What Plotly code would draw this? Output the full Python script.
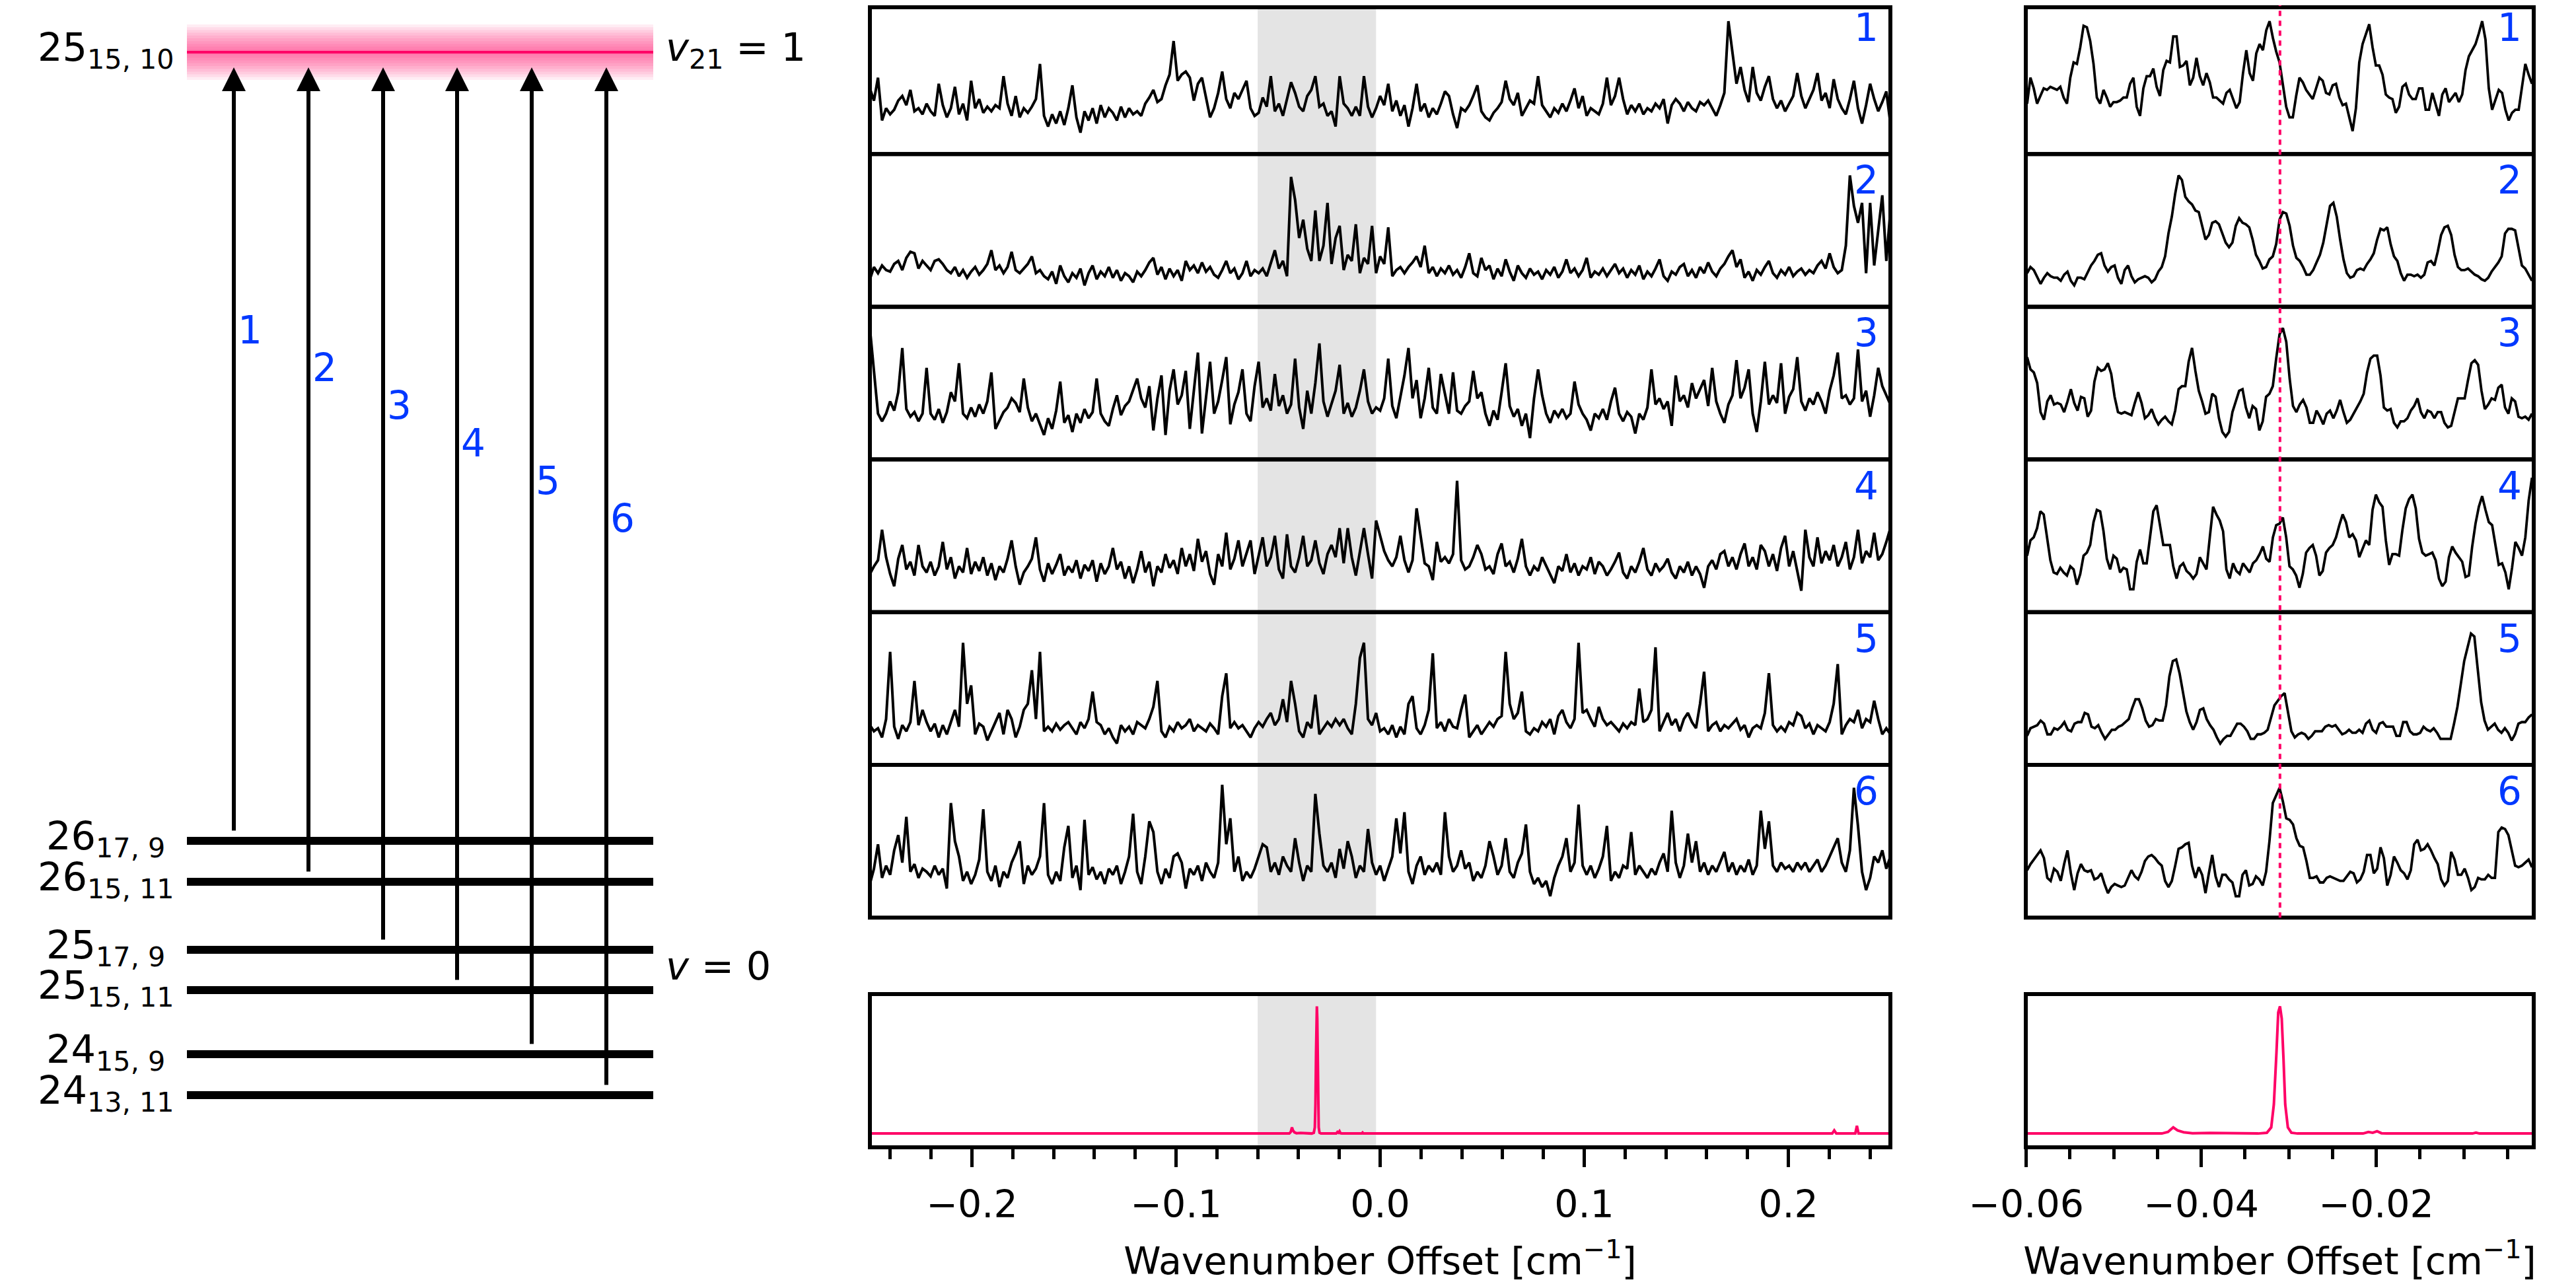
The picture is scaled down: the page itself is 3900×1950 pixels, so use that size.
import numpy as np
import plotly.graph_objects as go

W, H = 3900, 1950            # page size
OFF = 8                      # browser body margin
FW, FH = W - 2 * OFF, H - 2 * OFF
FONT = "DejaVu Sans"
BLUE = "#0038FF"
PINK = "#FF0066"

# ---------------- data ----------------
# full-range spectra (middle column), uniformly sampled over [-0.25, 0.25] cm-1
mid_1 = [43,35,50,22,30,26,29,35,38,32,42,28,30,26,33,28,25,46,32,24,30,44,26,33,22,48,30,36,27,31,
         28,32,30,51,33,25,38,24,30,27,31,36,59,25,18,26,20,28,19,30,45,24,14,28,22,30,20,32,24,30,
         27,22,31,24,30,26,28,25,33,37,42,34,36,45,52,74,48,52,54,50,35,46,50,38,24,30,40,54,36,30,
         40,36,42,48,30,25,
         27,37,31,51,28,33,25,36,47,40,31,28,38,42,51,31,33,25,28,18,51,33,30,25,31,25,51,31,24,
         30,38,32,46,28,35,25,32,18,30,46,28,33,24,30,26,33,41,38,26,17,30,28,32,38,45,28,24,22,27,
         30,34,48,36,32,40,25,30,35,33,51,32,28,24,30,27,33,28,35,43,30,38,25,30,28,26,33,50,32,38,
         50,36,26,32,28,33,26,30,28,33,30,36,20,32,36,33,28,34,30,28,34,32,35,30,25,32,40,87,66,46,
         57,42,34,57,40,35,44,51,36,30,35,28,33,38,53,38,30,36,42,53,35,40,30,49,36,30,26,36,48,30,
         20,32,46,36,28,34,41,20]
mid_2 = [18,26,22,27,24,23,28,30,24,32,36,35,25,30,27,24,30,31,28,24,22,26,20,24,19,23,26,21,24,28,
         37,24,27,22,26,36,24,22,25,28,33,22,24,20,18,23,15,27,20,16,22,19,25,14,22,27,18,23,20,26,
         19,24,17,22,20,16,23,20,24,29,32,21,26,18,25,20,24,17,30,24,27,22,29,23,26,21,19,24,30,22,
         25,18,22,30,20,24,22,25,20,28,37,25,30,20,85,70,45,57,38,30,63,30,40,68,28,45,53,24,34,30,
         54,22,32,28,53,22,33,28,52,20,24,26,22,26,29,33,26,40,22,26,20,25,22,27,21,24,19,26,35,22,
         20,32,24,27,18,25,20,31,23,17,27,22,19,25,21,23,18,24,21,26,19,23,31,22,25,20,24,32,19,23,
         21,25,20,24,28,22,25,19,24,21,27,18,23,20,25,31,20,17,23,21,26,28,20,24,19,26,22,29,23,20,
         25,28,33,37,26,31,19,23,17,24,21,26,30,22,19,24,21,26,20,23,25,21,24,22,27,30,25,35,26,22,
         24,40,86,66,55,68,22,68,27,50,73,30,63]
mid_3 = [86,60,30,25,30,38,32,44,73,33,28,31,25,30,60,30,26,33,24,31,44,38,63,30,27,34,28,36,30,38,
         57,20,26,31,34,40,37,31,53,34,25,30,23,16,27,20,32,51,24,29,18,30,24,33,27,31,53,30,25,22,
         33,42,29,35,38,45,53,40,34,48,19,40,55,16,45,59,36,42,58,20,44,70,17,40,64,30,38,52,67,23,
         36,44,59,30,25,48,64,34,40,32,56,35,42,30,36,66,34,20,45,30,50,76,38,28,36,45,62,30,37,28,
         34,45,59,38,30,34,32,40,66,35,27,40,55,73,40,52,27,40,60,34,30,56,43,30,57,32,30,35,38,58,
         40,44,30,22,32,26,44,63,35,28,33,22,30,14,40,59,42,30,24,32,28,33,27,30,51,36,30,26,19,30,
         27,33,26,38,47,30,25,31,28,17,30,26,34,59,36,40,33,38,22,55,38,42,34,50,40,46,52,35,60,38,
         30,24,36,42,65,40,47,59,30,18,38,64,36,42,37,63,30,41,46,67,38,32,40,36,44,38,30,45,55,70,
         40,42,36,40,72,38,45,28,42,60,48,42,36]
mid_4 = [25,30,34,54,36,25,17,35,44,28,33,24,44,30,26,33,24,30,46,28,36,22,30,26,42,25,33,27,36,24,
         32,21,30,26,35,47,30,18,26,30,35,49,28,20,32,25,31,38,24,30,26,34,22,31,27,34,20,32,25,30,
         42,28,33,22,30,19,28,40,26,33,17,30,26,38,29,34,25,42,30,38,27,48,33,40,25,18,38,30,52,28,
         35,47,30,38,47,25,38,49,30,36,50,28,22,51,30,26,36,50,30,34,47,32,25,38,44,36,55,32,55,36,
         24,40,55,38,22,60,50,40,34,30,36,50,34,26,34,68,50,32,30,21,46,33,36,32,38,86,34,28,30,36,
         44,38,28,30,25,38,45,30,33,26,35,48,30,24,30,27,36,30,25,19,30,27,38,26,32,24,30,28,36,25,
         33,30,24,28,33,39,26,22,30,26,33,42,28,24,32,27,30,35,26,22,30,26,33,24,30,25,16,30,34,28,
         38,40,30,36,28,38,45,30,36,28,44,40,30,38,27,42,50,30,40,26,14,54,36,30,49,32,40,34,44,30,
         36,46,28,36,54,32,40,36,52,34,38,46,55]
mid_5 = [26,22,24,18,30,74,25,17,26,22,28,55,26,36,28,22,27,18,26,20,28,36,25,80,40,52,20,27,25,16,
         22,28,34,20,36,30,18,25,36,40,62,30,74,22,25,22,27,23,26,28,24,20,28,24,30,48,28,26,20,24,
         18,14,26,22,25,20,28,26,24,30,38,55,22,18,25,22,28,24,26,30,22,26,24,22,27,24,20,45,60,24,
         28,24,26,22,18,24,28,25,30,34,26,30,43,28,55,40,22,18,28,24,46,20,24,28,25,30,26,30,24,20,
         40,70,80,30,26,34,22,24,20,26,18,25,20,40,45,24,20,26,36,73,24,28,22,30,25,24,36,46,18,22,
         26,20,24,28,25,30,32,74,40,30,34,48,22,20,24,22,28,25,30,20,32,36,28,24,30,80,34,36,30,25,
         38,30,26,28,25,22,27,24,28,26,50,28,30,36,77,22,28,34,26,30,22,30,34,28,24,40,61,22,26,28,
         22,26,24,27,30,23,26,18,24,26,24,34,60,26,22,25,22,28,26,34,32,24,27,20,26,24,22,28,40,66,
         20,26,30,28,36,24,30,28,42,30,20,24,20]
mid_6 = [22,32,48,26,34,28,44,54,36,66,30,35,26,32,30,27,34,28,32,19,75,50,40,24,30,22,28,38,71,30,
         24,34,20,30,26,36,42,50,22,34,28,32,40,75,28,22,30,24,46,60,26,34,18,64,28,33,25,30,22,32,
         28,34,22,30,40,68,30,22,40,63,56,30,22,32,26,40,42,36,19,32,28,34,24,36,30,26,36,87,48,65,
         30,40,24,30,26,32,40,48,46,30,36,28,40,34,30,52,36,24,34,30,81,55,34,30,36,26,45,32,50,40,
         26,34,30,58,36,28,34,24,32,40,65,42,69,30,22,34,40,28,34,30,36,28,69,40,30,34,44,32,36,24,
         30,26,34,50,40,28,34,52,30,26,36,42,61,30,22,26,20,24,14,26,34,40,52,30,36,74,34,28,34,26,
         32,40,60,24,30,26,34,32,56,28,34,30,26,32,28,36,42,30,70,36,26,34,55,36,50,30,36,28,34,30,
         36,43,30,36,28,34,30,38,28,34,70,45,63,34,30,36,32,34,30,36,32,36,30,34,38,30,34,40,46,52,
         36,30,44,85,60,30,18,26,40,36,44,32,40]

# zoomed spectra (right column), uniformly sampled over the shaded window
zoom_1 = [33,50,43,33,38,43,42,44,43,42,44,37,33,50,60,59,70,84,83,74,59,37,33,42,37,31,34,34,35,37,
          37,46,50,31,25,43,51,51,56,44,38,55,61,60,77,77,57,58,61,45,50,63,51,45,53,47,37,37,35,33,
          40,42,36,30,34,53,68,53,48,66,72,68,81,87,76,67,60,46,31,24,24,38,50,47,42,39,36,43,50,48,
          40,39,45,46,37,32,33,24,15,30,60,72,79,85,70,58,58,52,39,37,36,27,31,44,46,39,36,36,43,43,
          29,29,40,32,25,39,43,34,37,40,34,39,55,64,68,72,79,87,75,43,29,35,42,40,29,22,27,29,29,44,
          59,52,46]
zoom_2 = [22,26,24,19,15,19,22,20,19,19,17,21,23,17,14,19,19,18,23,27,30,34,35,27,23,26,27,19,15,24,
          27,20,16,18,19,20,19,16,18,23,26,33,48,59,74,86,83,72,69,67,63,62,53,44,47,55,56,54,48,42,
          39,42,53,58,55,54,52,44,34,30,25,26,31,33,41,57,62,61,53,40,32,30,26,21,21,24,29,34,42,54,
          66,68,59,44,31,22,19,20,24,25,24,28,31,35,44,51,50,52,41,33,30,22,17,21,21,20,21,19,21,29,
          30,27,36,47,52,53,47,34,26,24,24,25,23,21,20,18,17,19,23,26,29,33,48,51,51,50,39,27,25,21,
          17]
zoom_3 = [67,59,57,50,31,26,38,42,36,37,36,31,38,46,37,32,41,40,28,32,51,60,58,59,63,56,41,31,30,31,
          30,29,37,44,37,27,29,33,27,23,26,28,25,23,32,46,48,48,64,73,58,45,38,30,31,43,41,27,18,15,
          18,31,38,45,46,34,27,35,33,19,25,41,43,48,66,82,86,77,53,35,31,36,39,34,24,24,32,28,23,30,
          32,27,32,39,31,24,26,30,34,38,43,57,66,68,68,55,34,32,33,24,21,25,25,27,32,35,40,31,27,32,
          31,27,31,31,24,21,22,31,40,40,40,52,63,65,62,45,33,36,40,39,47,49,34,30,40,38,28,27,28,26,
          30]
zoom_4 = [37,47,49,55,66,64,49,34,26,25,29,26,24,30,28,18,25,37,39,44,59,67,66,53,35,28,37,35,26,29,
          28,15,15,33,41,32,32,49,66,70,57,44,44,44,30,22,30,32,27,25,22,25,36,32,28,49,69,64,60,53,
          28,22,32,27,25,32,29,26,32,34,38,43,35,33,49,57,58,62,49,30,28,24,16,25,39,42,44,37,24,27,
          39,42,44,49,57,64,59,49,51,47,36,42,47,44,67,77,72,69,47,31,38,38,37,54,68,74,77,68,48,39,
          37,38,39,34,22,17,20,36,43,39,36,33,23,24,43,58,69,76,67,59,57,44,31,32,26,15,29,46,42,37,
          49,73,88]
zoom_5 = [19,24,25,26,29,27,20,20,24,23,25,28,23,22,27,28,28,34,33,25,24,26,21,17,20,23,23,25,26,28,
          30,37,43,43,37,29,25,26,30,29,29,39,58,68,69,60,48,35,28,23,28,36,37,30,26,23,18,14,17,19,
          19,23,27,27,25,22,17,17,20,20,21,23,31,39,42,45,47,34,22,18,20,21,20,17,19,22,22,22,25,26,
          25,26,23,20,21,23,21,21,23,21,27,29,23,21,27,28,25,25,25,19,19,28,28,22,20,20,21,25,23,22,
          24,21,17,17,17,17,27,38,53,68,77,86,84,63,41,29,23,25,27,23,21,24,21,16,20,27,28,28,31,33]
zoom_6 = [31,35,38,41,44,39,26,24,32,30,24,35,44,29,18,29,35,31,30,31,25,26,29,22,16,20,22,21,20,21,
          26,31,27,25,30,37,40,41,39,36,34,24,20,24,34,45,46,48,49,34,26,33,28,16,29,41,27,20,28,28,
          25,23,14,14,28,31,21,22,27,25,21,30,50,75,80,85,76,65,64,61,52,47,46,37,26,26,27,23,23,26,
          27,26,25,24,24,27,30,29,23,25,30,41,41,29,32,46,39,21,28,40,36,31,29,25,31,48,51,44,45,48,
          44,39,35,25,21,24,43,38,28,28,32,26,18,20,26,25,25,28,26,26,56,59,58,54,43,34,33,34,36,38,
          33]

# simulated spectrum (pink)
sim_x = [-0.25, -0.0445, -0.0438, -0.0432, -0.0427, -0.042, -0.041, -0.039, -0.0335, -0.0325,
         -0.032, -0.0317, -0.0314, -0.0312, -0.0310, -0.0308, -0.0306, -0.0304, -0.0301, -0.0297,
         -0.029, -0.0215, -0.0209, -0.0204, -0.0199, -0.0194, -0.0188, -0.009, -0.0086, -0.0082,
         0.2215, 0.2225, 0.2235, 0.2328, 0.2336, 0.2344, 0.25]
sim_y = [9, 9, 10, 13, 11, 9.8, 9.2, 9.4, 9, 9.5,
         13, 28, 62, 88, 92, 84, 58, 28, 13, 9.5,
         9, 9, 10, 9.5, 10.5, 9.2, 9, 9, 9.6, 9,
         9, 11, 9, 9, 14, 9, 9]
peak_center = -0.031

window = [-0.06, -0.002]          # shaded window / zoom range
full_range = [-0.25, 0.25]

# energy level diagram
upper_label = "25<sub>15, 10</sub>"
lower_labels = ["26<sub>17, 9</sub>", "26<sub>15, 11</sub>", "25<sub>17, 9</sub>",
                "25<sub>15, 11</sub>", "24<sub>15, 9</sub>", "24<sub>13, 11</sub>"]
upper_level = 79
lower_levels = [1273, 1335, 1438, 1499, 1596, 1658]
transitions = ["1", "2", "3", "4", "5", "6"]

mid_spectra = [mid_1, mid_2, mid_3, mid_4, mid_5, mid_6]
zoom_spectra = [zoom_1, zoom_2, zoom_3, zoom_4, zoom_5, zoom_6]

# ---------------- layout geometry (page pixels) ----------------
MID_X = (1317, 2862)
RIGHT_X = (3067, 3836)
PANEL_TOP, PANEL_H = 2, 231.2
BOT_Y = (1505, 1737)
LEVEL_X = (283, 989)
arrow_x = [354, 467, 580, 692, 805, 918]


def px(a):
    return (a - OFF) / FW


def py(b):
    return 1 - (b - OFF) / FH


def xd(a, b):
    return [px(a), px(b)]


def yd(top, bot):
    return [py(bot), py(top)]


def sfx(n):
    return "" if n == 1 else str(n)


fig = go.Figure()
layout = dict()
shapes = []
annotations = []

hidden = dict(showgrid=False, zeroline=False, showticklabels=False, ticks="",
              showline=False, fixedrange=True, automargin=False)

panel_rows = [(PANEL_TOP + i * PANEL_H, PANEL_TOP + (i + 1) * PANEL_H) for i in range(6)]

x_mid = np.linspace(full_range[0], full_range[1], len(mid_1))

for i in range(6):
    top, bot = panel_rows[i]
    vis_top = max(top, OFF)
    yr = [0, 100 * (bot - vis_top) / (bot - top)]
    # middle column
    s = sfx(i + 1)
    layout[f"xaxis{s}"] = dict(domain=xd(*MID_X), range=full_range, anchor=f"y{s}", **hidden)
    layout[f"yaxis{s}"] = dict(domain=yd(vis_top, bot), range=yr, anchor=f"x{s}", **hidden)
    fig.add_trace(go.Scatter(x=x_mid, y=mid_spectra[i], mode="lines",
                             line=dict(color="black", width=4), xaxis=f"x{s}", yaxis=f"y{s}"))
    # right column
    m = str(i + 7)
    zs = zoom_spectra[i]
    layout[f"xaxis{m}"] = dict(domain=xd(*RIGHT_X), range=[-0.06005, -0.002], anchor=f"y{m}", **hidden)
    layout[f"yaxis{m}"] = dict(domain=yd(vis_top, bot), range=yr, anchor=f"x{m}", **hidden)
    fig.add_trace(go.Scatter(x=np.linspace(-0.0599, -0.0022, len(zs)), y=zs, mode="lines",
                             line=dict(color="black", width=3.8), xaxis=f"x{m}", yaxis=f"y{m}"))
    # borders (top frame line kept inside the visible page area)
    frame_top = max(top, OFF + 3)
    for (a, b) in (MID_X, RIGHT_X):
        shapes.append(dict(type="rect", xref="paper", yref="paper",
                           x0=px(a), x1=px(b), y0=py(bot), y1=py(frame_top),
                           line=dict(color="black", width=6), layer="above"))
    # panel numbers
    for right in (MID_X[1], RIGHT_X[1]):
        annotations.append(dict(text=transitions[i], xref="paper", yref="paper",
                                x=px(right - 16), y=py(top + 4),
                                xanchor="right", yanchor="top", showarrow=False,
                                font=dict(family=FONT, size=58, color=BLUE)))

# bottom (simulation) panels
title_text = "Wavenumber Offset [cm<sup>−1</sup>]"
tick_common = dict(showgrid=False, zeroline=False, showline=False, ticks="outside",
                   ticklen=29, tickwidth=5, tickcolor="black", automargin=False,
                   ticklabelstandoff=8,
                   tickfont=dict(family=FONT, size=57, color="black"), fixedrange=True)
layout["xaxis13"] = dict(domain=xd(*MID_X), range=full_range, anchor="y13",
                         dtick=0.1, tick0=0, tickformat=".1f",
                         minor=dict(dtick=0.02, tick0=0, ticks="outside", ticklen=17,
                                    tickwidth=5, tickcolor="black"),
                         title=dict(text=title_text, font=dict(family=FONT, size=57, color="black"),
                                    standoff=40),
                         **tick_common)
layout["yaxis13"] = dict(domain=yd(*BOT_Y), range=[0, 100], anchor="x13", **hidden)
layout["xaxis14"] = dict(domain=xd(*RIGHT_X), range=[-0.06005, -0.002], anchor="y14",
                         dtick=0.02, tick0=-0.06, tickformat=".2f",
                         minor=dict(dtick=0.005, tick0=-0.06, ticks="outside", ticklen=17,
                                    tickwidth=5, tickcolor="black"),
                         title=dict(text=title_text, font=dict(family=FONT, size=57, color="black"),
                                    standoff=40),
                         **tick_common)
layout["yaxis14"] = dict(domain=yd(*BOT_Y), range=[0, 100], anchor="x14", **hidden)
for n in (13, 14):
    fig.add_trace(go.Scatter(x=sim_x, y=sim_y, mode="lines", line=dict(color=PINK, width=4),
                             xaxis=f"x{n}", yaxis=f"y{n}"))
for (a, b) in (MID_X, RIGHT_X):
    shapes.append(dict(type="rect", xref="paper", yref="paper",
                       x0=px(a), x1=px(b), y0=py(BOT_Y[1]), y1=py(BOT_Y[0]),
                       line=dict(color="black", width=6), layer="above"))

# shaded window in middle column
for n in (1, 2, 3, 4, 5, 6, 13):
    s = sfx(n)
    shapes.append(dict(type="rect", xref=f"x{s}", yref=f"y{s} domain",
                       x0=window[0], x1=window[1], y0=0, y1=1,
                       fillcolor="#E4E4E4", line=dict(width=0), layer="below"))

# dotted line at the simulated line centre across the zoomed panels
shapes.append(dict(type="line", xref="x7", yref="paper", x0=peak_center, x1=peak_center,
                   y0=py(panel_rows[5][1]), y1=1,
                   line=dict(color=PINK, width=4, dash="8px,7px"), layer="above"))

# ---------------- energy level diagram ----------------
layout["xaxis15"] = dict(domain=[0, px(1300)], range=[OFF, 1300], anchor="y15", **hidden)
layout["yaxis15"] = dict(domain=[0, 1], range=[OFF + FH, OFF], anchor="x15", **hidden)

# upper level glow
for k in range(10):
    h = 42 * (k + 1) / 10
    shapes.append(dict(type="rect", xref="x15", yref="y15", x0=LEVEL_X[0], x1=LEVEL_X[1],
                       y0=upper_level - h, y1=upper_level + h, fillcolor=PINK, opacity=0.07,
                       line=dict(width=0), layer="below"))
fig.add_trace(go.Scatter(x=list(LEVEL_X), y=[upper_level] * 2, mode="lines",
                         line=dict(color=PINK, width=4), xaxis="x15", yaxis="y15"))
for ly in lower_levels:
    fig.add_trace(go.Scatter(x=list(LEVEL_X), y=[ly, ly], mode="lines",
                             line=dict(color="black", width=12), xaxis="x15", yaxis="y15"))

annotations.append(dict(text=upper_label, x=160, y=upper_level - 4, xref="x15", yref="y15",
                        showarrow=False, xanchor="center", yanchor="middle",
                        font=dict(family=FONT, size=59, color="black")))
annotations.append(dict(text="<i>v</i><sub>21</sub> = 1", x=1006, y=upper_level - 4,
                        xref="x15", yref="y15", showarrow=False, xanchor="left",
                        yanchor="middle", font=dict(family=FONT, size=59, color="black")))
annotations.append(dict(text="<i>v</i> = 0", x=1006, y=(lower_levels[2] + lower_levels[3]) / 2 - 6,
                        xref="x15", yref="y15", showarrow=False, xanchor="left",
                        yanchor="middle", font=dict(family=FONT, size=59, color="black")))
for lab, ly in zip(lower_labels, lower_levels):
    annotations.append(dict(text=lab, x=160, y=ly - 4, xref="x15", yref="y15",
                            showarrow=False, xanchor="center", yanchor="middle",
                            font=dict(family=FONT, size=59, color="black")))

for i, (ax_, ly) in enumerate(zip(arrow_x, lower_levels)):
    annotations.append(dict(text="", x=ax_, y=102, ax=ax_, ay=ly - 14,
                            xref="x15", yref="y15", axref="x15", ayref="y15",
                            showarrow=True, arrowhead=2, arrowsize=1.2, arrowwidth=6,
                            arrowcolor="black"))
    annotations.append(dict(text=transitions[i], x=ax_ + 24, y=500 + 57 * i,
                            xref="x15", yref="y15", showarrow=False,
                            xanchor="center", yanchor="middle",
                            font=dict(family=FONT, size=58, color=BLUE)))

fig.update_layout(**layout)
fig.update_layout(
    width=FW, height=FH,
    margin=dict(l=0, r=0, t=0, b=0, autoexpand=False),
    paper_bgcolor="white", plot_bgcolor="rgba(0,0,0,0)",
    showlegend=False,
    shapes=shapes, annotations=annotations,
    font=dict(family=FONT, color="black"),
    hovermode=False,
)

fig.write_html("out.html")
